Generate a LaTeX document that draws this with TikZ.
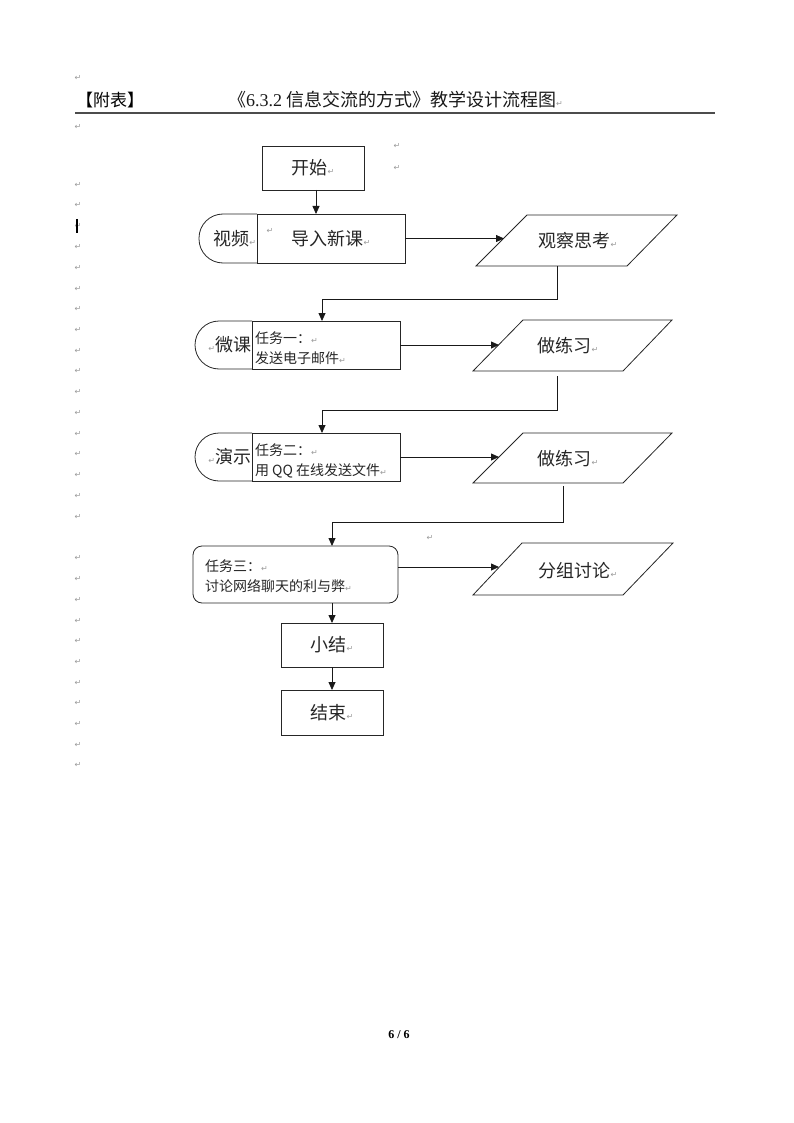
\documentclass[tikz,border=0pt]{standalone}
\usepackage{fontspec}
\newfontfamily\cjk{Noto Sans CJK SC}
\newfontfamily\tnr{Liberation Serif}
\newfontfamily\dejavu{DejaVu Sans}
\usetikzlibrary{arrows.meta,calc}
\newcommand\pmk{{\dejavu\fontsize{8}{8}\selectfont\color{black!40}↵}}
\begin{document}
\begin{tikzpicture}[x=1pt,y=-1pt,
  every node/.style={inner sep=0pt, outer sep=0pt},
  shp/.style={draw=black!85, line width=0.8pt},
  box/.style={shp, fill=white},
  arr/.style={draw=black!90, line width=0.8pt, -{Triangle[length=8pt,width=7pt]}},
  big/.style={font=\cjk\fontsize{18}{20}\selectfont, text=black!85},
  small/.style={font=\cjk\fontsize{14}{20}\selectfont, text=black!85, align=left},
  pmark/.style={font=\dejavu\fontsize{8}{8}\selectfont, text=black!40},
]
\useasboundingbox (0,0) rectangle (794,1123);

% ---------- header ----------
\node[pmark] (pmtop) at (78,78) {↵};
\node[font=\cjk\fontsize{17}{17}\selectfont, text=black, anchor=west] (fb) at (76,100) {【附表】};
\node[font=\cjk\fontsize{18}{18}\selectfont, text=black!90, anchor=west] (title) at (228,100) {《{\tnr 6.3.2} 信息交流的方式》教学设计流程图\pmk};
\draw[line width=1.2pt, black!70] (75,113) -- (715,113);
\node[pmark] (pmhead) at (78,127) {↵};

% left column of paragraph marks
\foreach \yy in {185,205,226,247,268,289,309,330,351,371,392,413,434,454,475,496,517,558,579,600,621,641,662,683,703,724,745,765}
  \node[pmark] (pm\yy) at (78,\yy) {↵};
\draw[line width=1.5pt, black] (77,219) -- (77,233);

\node[pmark] (pmr1) at (397,146) {↵};
\node[pmark] (pmr2) at (397,168) {↵};
\node[pmark] (pmr3) at (430,538) {↵};

% ---------- start ----------
\node[box, big, minimum width=102pt, minimum height=44pt] (start) at (313,168) {开始\pmk};

% ---------- row 1 ----------
\node[box, big, minimum width=148pt, minimum height=49pt] (intro) at (331,238.5) {导入新课\pmk};
\draw[shp, rounded corners=24pt] (intro.north west) -- ++(-58,0) -- ++(0,49) -- (intro.south west);
\node[big, anchor=east] (vid) at (256,238.5) {视频\pmk};
\node[pmark] (intropm) at (270,231) {↵};

\coordinate (p1a) at (527,215);
\coordinate (p1b) at (677,215);
\coordinate (p1c) at (627,266);
\coordinate (p1d) at (476,266);
\draw[shp] (p1a) -- (p1b) -- (p1c) -- (p1d) -- cycle;
\node[big] (p1) at (578,241) {观察思考\pmk};
\coordinate (p1in) at (504,238.5);
\coordinate (p1out) at (557,266);

\draw[arr] ([xshift=3pt]start.south) -- ([xshift=3pt]start.south |- intro.north);
\draw[arr] (intro.east) -- (p1in);

% ---------- row 2 ----------
\node[box, minimum width=148pt, minimum height=48pt] (t1) at (326,345) {};
\draw[shp, rounded corners=24pt] (t1.north west) -- ++(-57,0) -- ++(0,48) -- (t1.south west);
\node[big, anchor=east] (mk) at (251,345) {\pmk 微课};
\node[small, anchor=west] (t1txt) at (255,348) {任务一：\pmk\\发送电子邮件\pmk};

\coordinate (p2a) at (523,320);
\coordinate (p2b) at (672,320);
\coordinate (p2c) at (623,371);
\coordinate (p2d) at (473,371);
\draw[shp] (p2a) -- (p2b) -- (p2c) -- (p2d) -- cycle;
\node[big] (p2) at (568,346) {做练习\pmk};
\coordinate (p2in) at (499,345);
\coordinate (p2out) at (557,376);

\draw[arr] (p1out) -- ++(0,33) -| ([xshift=-4pt]t1.north);
\draw[arr] (t1.east) -- (p2in);

% ---------- row 3 ----------
\node[box, minimum width=148pt, minimum height=48pt] (t2) at (326,457) {};
\draw[shp, rounded corners=24pt] (t2.north west) -- ++(-57,0) -- ++(0,48) -- (t2.south west);
\node[big, anchor=east] (ys) at (251,457) {\pmk 演示};
\node[small, anchor=west] (t2txt) at (255,460.5) {任务二：\pmk\\用 QQ 在线发送文件\pmk};

\coordinate (p3a) at (523,433);
\coordinate (p3b) at (672,433);
\coordinate (p3c) at (623,483);
\coordinate (p3d) at (473,483);
\draw[shp] (p3a) -- (p3b) -- (p3c) -- (p3d) -- cycle;
\node[big] (p3) at (568,459) {做练习\pmk};
\coordinate (p3in) at (499,457);
\coordinate (p3out) at (563,486);

\draw[arr] (p2out) -- ++(0,34) -| ([xshift=-4pt]t2.north);
\draw[arr] (t2.east) -- (p3in);

% ---------- row 4 ----------
\node[box, rounded corners=9pt, minimum width=205pt, minimum height=57pt] (t3) at (295.5,574.5) {};
\node[small, anchor=west] (t3txt) at (205,576) {任务三：\pmk\\讨论网络聊天的利与弊\pmk};

\coordinate (p4a) at (522,543);
\coordinate (p4b) at (673,543);
\coordinate (p4c) at (623,595);
\coordinate (p4d) at (473,595);
\draw[shp] (p4a) -- (p4b) -- (p4c) -- (p4d) -- cycle;
\node[big] (p4) at (578,571) {分组讨论\pmk};
\coordinate (p4in) at (499,567);

% ---------- summary / end ----------
\node[box, big, minimum width=102pt, minimum height=44pt] (sum) at (332,645) {小结\pmk};
\node[box, big, minimum width=102pt, minimum height=45pt] (fin) at (332,712.5) {结束\pmk};

\draw[arr] (p3out) -- ++(0,36) -| (t3.north -| sum.north);
\draw[arr] (t3.east |- p4in) -- (p4in);
\draw[arr] (t3.south -| sum.north) -- (sum.north);
\draw[arr] (sum.south) -- (fin.north);

% ---------- footer ----------
\node[font=\tnr\bfseries\fontsize{12}{12}\selectfont] (pg) at (399,1035) {6 / 6};
\end{tikzpicture}
\end{document}
